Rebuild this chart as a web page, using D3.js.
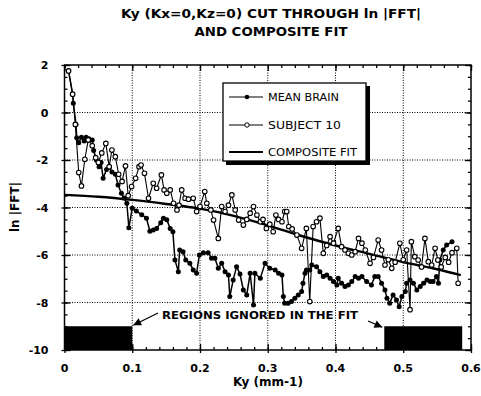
<!DOCTYPE html>
<html><head><meta charset="utf-8">
<script src="https://cdn.jsdelivr.net/npm/d3@7"></script>
<style>
html,body{margin:0;padding:0;background:#fff;}
text{font-family:"DejaVu Sans",sans-serif;fill:#000;}
</style></head>
<body><svg id="c" width="481" height="396"></svg>
<script>
// ---- data ----
const meanBrainX = [0.006,0.012,0.013,0.017,0.018,0.021,0.025,0.029,0.032,0.036,0.041,0.043,0.047,0.051,0.054,0.057,0.062,0.066,0.07,0.075,0.079,0.084,0.088,0.092,0.095,0.1,0.106,0.114,0.121,0.126,0.131,0.136,0.142,0.146,0.151,0.156,0.16,0.163,0.168,0.17,0.175,0.179,0.185,0.19,0.195,0.199,0.205,0.212,0.217,0.222,0.227,0.232,0.237,0.242,0.244,0.249,0.254,0.259,0.264,0.269,0.274,0.279,0.281,0.289,0.296,0.303,0.311,0.316,0.321,0.323,0.325,0.33,0.335,0.34,0.345,0.35,0.352,0.355,0.357,0.362,0.365,0.372,0.377,0.382,0.387,0.392,0.397,0.402,0.404,0.409,0.414,0.419,0.424,0.429,0.434,0.439,0.446,0.453,0.458,0.463,0.468,0.473,0.476,0.48,0.485,0.49,0.494,0.498,0.503,0.505,0.51,0.515,0.52,0.525,0.53,0.535,0.54,0.544,0.549,0.552,0.554,0.559,0.564,0.572];
const meanBrainY = [1.75,0.77,0.39,-0.5,-1.06,-1.27,-1.04,-1.2,-1.04,-1.1,-1.16,-1.6,-2.0,-2.28,-2.1,-2.77,-2.4,-2.3,-2.5,-2.6,-3.05,-3.4,-3.6,-3.82,-4.85,-4.03,-4.15,-4.3,-4.45,-5.0,-4.95,-4.88,-4.64,-4.45,-4.52,-4.88,-5.02,-6.21,-6.7,-5.79,-5.86,-6.21,-6.35,-6.63,-6.77,-6.0,-5.9,-5.9,-6.14,-6.14,-6.56,-6.35,-6.7,-6.84,-7.75,-7.05,-6.49,-6.8,-7.47,-7.68,-6.77,-8.1,-6.77,-6.98,-6.35,-6.56,-6.63,-6.77,-6.84,-7.75,-8.03,-8.03,-7.96,-7.82,-7.68,-7.54,-7.19,-6.77,-6.63,-6.63,-6.42,-6.49,-6.7,-6.91,-6.84,-6.98,-7.12,-7.26,-6.98,-7.19,-7.33,-7.26,-7.12,-6.91,-6.98,-6.91,-7.12,-7.26,-6.91,-6.91,-7.19,-7.47,-7.82,-8.03,-7.68,-7.89,-8.18,-7.75,-7.54,-7.19,-7.05,-7.19,-7.47,-7.33,-7.19,-7.05,-7.12,-7.12,-6.91,-7.19,-6.21,-5.79,-5.58,-5.44];

const subject10X = [0.006,0.012,0.016,0.021,0.025,0.03,0.035,0.041,0.046,0.05,0.055,0.061,0.066,0.07,0.075,0.08,0.085,0.09,0.094,0.099,0.105,0.11,0.113,0.118,0.124,0.131,0.136,0.143,0.147,0.151,0.156,0.161,0.166,0.169,0.173,0.178,0.183,0.19,0.195,0.2,0.207,0.21,0.216,0.22,0.227,0.232,0.237,0.242,0.247,0.252,0.257,0.264,0.269,0.274,0.279,0.284,0.289,0.293,0.298,0.303,0.308,0.312,0.316,0.321,0.325,0.328,0.331,0.336,0.343,0.35,0.357,0.362,0.367,0.372,0.377,0.382,0.387,0.392,0.397,0.404,0.409,0.414,0.419,0.424,0.429,0.434,0.439,0.444,0.451,0.456,0.463,0.468,0.473,0.478,0.483,0.488,0.495,0.5,0.505,0.51,0.512,0.517,0.522,0.527,0.532,0.537,0.542,0.547,0.551,0.556,0.562,0.567,0.572,0.579,0.581];
const subject10Y = [1.75,0.77,-0.5,-2.53,-3.09,-1.97,-1.16,-1.4,-1.9,-2.1,-1.7,-1.3,-2.28,-1.58,-1.86,-2.6,-2.9,-2.25,-3.5,-3.12,-2.77,-2.28,-2.21,-2.56,-3.61,-2.98,-3.19,-2.63,-3.26,-3.4,-3.26,-3.82,-4.1,-3.9,-3.26,-3.61,-3.65,-3.61,-4.17,-3.96,-3.33,-3.82,-4.1,-4.53,-5.3,-3.96,-4.17,-3.9,-3.47,-4.1,-4.53,-4.74,-4.5,-4.24,-3.96,-4.32,-4.6,-4.5,-4.88,-4.7,-5.02,-4.32,-4.5,-4.6,-4.17,-4.17,-4.8,-4.9,-5.16,-5.72,-4.88,-7.96,-4.8,-4.6,-4.45,-5.93,-5.6,-5.23,-5.5,-4.88,-5.65,-5.79,-5.93,-6.0,-5.86,-5.3,-5.5,-5.79,-6.35,-6.1,-5.37,-5.79,-6.42,-6.2,-6.56,-6.3,-5.51,-6.2,-5.79,-8.3,-5.44,-6.07,-6.21,-6.5,-5.3,-6.28,-6.42,-5.72,-6.21,-6.5,-6.1,-6.3,-5.9,-5.72,-7.19];

const fitX = [0,0.05,0.1,0.15,0.2,0.25,0.3,0.35,0.4,0.45,0.5,0.55,0.585];
const fitY = [-3.47,-3.55,-3.68,-3.85,-4.05,-4.35,-4.75,-5.2,-5.6,-5.95,-6.3,-6.6,-6.85];

const ignoredX0 = [0, 0.472];
const ignoredX1 = [0.1, 0.587];
const ignoredYTop = -9;

const xTicks = [0,0.1,0.2,0.3,0.4,0.5,0.6];
const xTickLabels = ["0","0.1","0.2","0.3","0.4","0.5","0.6"];
const yTicks = [2,0,-2,-4,-6,-8,-10];
const yTickLabels = ["2","0","-2","-4","-6","-8","-10"];
const seriesNames = ["MEAN BRAIN","SUBJECT 10","COMPOSITE FIT"];
const titleLines = ["Ky (Kx=0,Kz=0) CUT THROUGH ln |FFT|","AND COMPOSITE FIT"];
const xLabel = "Ky (mm-1)";
const yLabel = "ln |FFT|";
const annotation = "REGIONS IGNORED IN THE FIT";

// ---- chart ----
const svg = d3.select("#c");
const L=64.5, R=471, T=65, B=350;
const x = d3.scaleLinear().domain([0,0.6]).range([L,R]);
const y = d3.scaleLinear().domain([-10,2]).range([B,T]);

// title
svg.selectAll("text.title").data(titleLines).enter().append("text")
  .attr("x",271).attr("y",(d,i)=>18+i*18).attr("text-anchor","middle")
  .attr("font-size",12.5).attr("font-weight","bold")
  .attr("textLength",(d,i)=>i===0?300:153).attr("lengthAdjust","spacingAndGlyphs")
  .text(d=>d);

// grid
const g = svg.append("g");
g.selectAll("line.gx").data(xTicks.slice(1,-1)).enter().append("line")
  .attr("x1",d=>x(d)).attr("x2",d=>x(d)).attr("y1",T).attr("y2",B)
  .attr("stroke","#000").attr("stroke-width",1).attr("stroke-dasharray","1,1.5");
g.selectAll("line.gy").data(yTicks.slice(1,-1)).enter().append("line")
  .attr("x1",L).attr("x2",R).attr("y1",d=>y(d)).attr("y2",d=>y(d))
  .attr("stroke","#000").attr("stroke-width",1).attr("stroke-dasharray","1,1.5");

// ignored regions
g.selectAll("rect.ign").data(ignoredX0).enter().append("rect")
  .attr("x",d=>x(d)).attr("width",(d,i)=>x(ignoredX1[i])-x(d))
  .attr("y",y(ignoredYTop)).attr("height",y(-10)-y(ignoredYTop)).attr("fill","#000");

// axes with inward ticks
const minorX = d3.range(0,0.6001,0.02);
const minorY = d3.range(-10,2.001,0.5);
function axisBuild(axisFn, scale, vals, size, transform){
  const a = axisFn(scale).tickValues(vals).tickSize(size).tickPadding(0).tickFormat("");
  const gg = svg.append("g").attr("transform",transform).call(a);
  gg.select(".domain").remove();
  gg.selectAll("line").attr("stroke","#000").attr("stroke-width",1.3);
  return gg;
}
axisBuild(d3.axisTop, x, xTicks, 6, `translate(0,${B})`);
axisBuild(d3.axisTop, x, minorX, 3, `translate(0,${B})`);
axisBuild(d3.axisBottom, x, xTicks, 6, `translate(0,${T})`);
axisBuild(d3.axisBottom, x, minorX, 3, `translate(0,${T})`);
axisBuild(d3.axisRight, y, yTicks, 6, `translate(${L},0)`);
axisBuild(d3.axisRight, y, minorY, 3, `translate(${L},0)`);
axisBuild(d3.axisLeft, y, yTicks, 6, `translate(${R},0)`);
axisBuild(d3.axisLeft, y, minorY, 3, `translate(${R},0)`);
axisBuild(d3.axisBottom, x, xTicks, 3, `translate(0,${B})`);
axisBuild(d3.axisLeft, y, yTicks, 3, `translate(${L},0)`);

// tick labels
svg.selectAll("text.xl").data(xTicks).enter().append("text")
  .attr("x",d=>x(d)).attr("y",B+22).attr("text-anchor","middle")
  .attr("font-size",11).attr("font-weight","bold").text((d,i)=>xTickLabels[i]);
svg.selectAll("text.yl").data(yTicks).enter().append("text")
  .attr("x",L-16).attr("y",d=>y(d)+4).attr("text-anchor","end")
  .attr("font-size",11).attr("font-weight","bold").text((d,i)=>yTickLabels[i]);

// frame
svg.append("rect").attr("x",L).attr("y",T).attr("width",R-L).attr("height",B-T)
  .attr("fill","none").attr("stroke","#000").attr("stroke-width",1.5);

// axis titles
svg.append("text").attr("x",268).attr("y",386).attr("text-anchor","middle")
  .attr("font-size",12).attr("font-weight","bold").text(xLabel);
svg.append("text").attr("transform","translate(19,207) rotate(-90)").attr("text-anchor","middle")
  .attr("font-size",12).attr("font-weight","bold").text(yLabel);

// series
const line = d3.line().x(d=>x(d[0])).y(d=>y(d[1]));
const mb = meanBrainX.map((v,i)=>[v,meanBrainY[i]]);
const s10 = subject10X.map((v,i)=>[v,subject10Y[i]]);
const fit = fitX.map((v,i)=>[v,fitY[i]]);
const plot = svg.append("g");
plot.append("path").datum(mb).attr("d",line).attr("fill","none").attr("stroke","#000").attr("stroke-width",1.5);
plot.append("path").datum(s10).attr("d",line).attr("fill","none").attr("stroke","#000").attr("stroke-width",1.1);
plot.append("path").datum(fit).attr("d",d3.line().x(d=>x(d[0])).y(d=>y(d[1])).curve(d3.curveMonotoneX))
  .attr("fill","none").attr("stroke","#000").attr("stroke-width",2.4);
plot.selectAll("circle.mb").data(mb).enter().append("circle")
  .attr("cx",d=>x(d[0])).attr("cy",d=>y(d[1])).attr("r",2.5).attr("fill","#000");
plot.selectAll("circle.s10").data(s10).enter().append("circle")
  .attr("cx",d=>x(d[0])).attr("cy",d=>y(d[1])).attr("r",2.3).attr("fill","#fff").attr("stroke","#000").attr("stroke-width",1.1);

// legend
const lg = svg.append("g");
lg.append("rect").attr("x",226).attr("y",86).attr("width",144).attr("height",79).attr("fill","#000");
lg.append("rect").attr("x",223).attr("y",83).attr("width",143).attr("height",78).attr("fill","#fff").attr("stroke","#000").attr("stroke-width",1.3);
const ly = [97,125,152];
seriesNames.forEach((nm,i)=>{
  lg.append("line").attr("x1",229).attr("x2",263).attr("y1",ly[i]).attr("y2",ly[i])
    .attr("stroke","#000").attr("stroke-width",i===2?2:1.2);
  if(i===0) lg.append("circle").attr("cx",247).attr("cy",ly[i]).attr("r",2.3).attr("fill","#000");
  if(i===1) lg.append("circle").attr("cx",247).attr("cy",ly[i]).attr("r",2.2).attr("fill","#fff").attr("stroke","#000");
  lg.append("text").attr("x",268).attr("y",ly[i]+4).attr("font-size",10.5)
    .attr("textLength",[71,73,89][i]).attr("lengthAdjust","spacingAndGlyphs").text(nm);
});

// annotation
svg.append("text").attr("x",162).attr("y",319).attr("font-size",11).attr("font-weight","bold")
  .attr("textLength",196).attr("lengthAdjust","spacingAndGlyphs").text(annotation);
const defs = svg.append("defs");
defs.append("marker").attr("id","ah").attr("viewBox","0 0 10 10").attr("refX",10).attr("refY",5)
  .attr("markerWidth",7).attr("markerHeight",6).attr("orient","auto")
  .append("path").attr("d","M0,0L10,5L0,10z").attr("fill","#000");
svg.append("line").attr("x1",158).attr("y1",313).attr("x2",x(ignoredX1[0])+1).attr("y2",y(ignoredYTop)-1)
  .attr("stroke","#000").attr("stroke-width",1.3).attr("marker-end","url(#ah)");
svg.append("line").attr("x1",368).attr("y1",321).attr("x2",x(ignoredX0[1])-2).attr("y2",y(ignoredYTop)+1)
  .attr("stroke","#000").attr("stroke-width",1.3).attr("marker-end","url(#ah)");
</script></body></html>
